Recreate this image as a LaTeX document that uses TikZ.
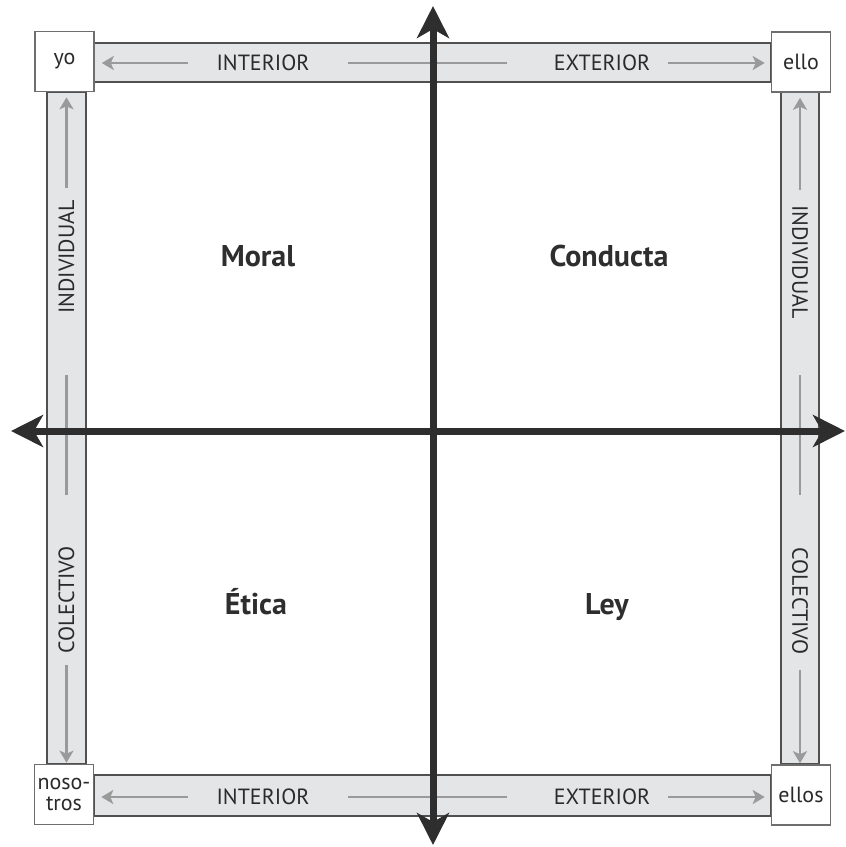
\documentclass[tikz,border=0pt]{standalone}
\usepackage{fontspec}
\setmainfont{PT Sans}
\usetikzlibrary{arrows.meta}
\definecolor{bandfill}{HTML}{E4E5E7}
\definecolor{bandline}{HTML}{505050}
\definecolor{boxline}{HTML}{6E6E6E}
\definecolor{garrow}{HTML}{9A9A9A}
\definecolor{axiscol}{HTML}{2E2E2E}
\definecolor{txt}{HTML}{2A2A2A}
\begin{document}
\begin{tikzpicture}[x=1pt,y=-1pt,
  band/.style={fill=bandfill,draw=bandline,line width=2.5pt},
  cornerbox/.style={draw=boxline,fill=white,line width=1.6pt,minimum width=59pt,minimum height=60pt,inner sep=0pt,text=txt,font=\fontsize{22}{21}\selectfont,align=center},
  bandtxt/.style={text=txt,font=\fontsize{22}{24}\selectfont,inner sep=0pt},
  quadtxt/.style={text=axiscol,font=\fontsize{30}{32}\selectfont\bfseries,inner sep=0pt,anchor=base},
  gar/.style={draw=garrow,line width=2.6pt,-{Stealth[length=12pt,width=14pt,inset=3pt]}},
  gline/.style={draw=garrow,line width=2.6pt},
  axisline/.style={draw=axiscol,line width=7pt,{Stealth[length=32pt,width=32pt,inset=9pt]}-{Stealth[length=32pt,width=32pt,inset=9pt]}}]
\useasboundingbox (0,0) rectangle (846,847);
% bands
\draw[band] (94,43) rectangle (771,82);
\draw[band] (94,775) rectangle (771,816);
\draw[band] (47,92) rectangle (86,764);
\draw[band] (781,92) rectangle (819,764);
% corner boxes
\node[cornerbox] (yo) at (64.5,61.5) {yo};
\node[cornerbox] (ello) at (801,62) {ello};
\node[cornerbox] (nos) at (64,794.5) {noso-\\tros};
\node[cornerbox] (ellos) at (801,795) {ellos};
% band texts
\node[bandtxt] (tint) at (263,63) {INTERIOR};
\node[bandtxt] (text) at (602,63) {EXTERIOR};
\node[bandtxt] (bint) at (263,797) {INTERIOR};
\node[bandtxt] (bext) at (602,797) {EXTERIOR};
\node[bandtxt,rotate=90] (lind) at (66.5,257) {INDIVIDUAL};
\node[bandtxt,rotate=90] (lcol) at (66.5,600) {COLECTIVO};
\node[bandtxt,rotate=-90] (rind) at (800,262) {INDIVIDUAL};
\node[bandtxt,rotate=-90] (rcol) at (800,601) {COLECTIVO};
% band arrows
\coordinate (ta1) at (188,63);
\coordinate (ta2) at (668,63);
\coordinate (tm1) at (348,63);
\coordinate (tm2) at (507,63);
\coordinate (ba1) at (188,797);
\coordinate (ba2) at (668,797);
\coordinate (bm1) at (348,797);
\coordinate (bm2) at (507,797);
\coordinate (la1) at (66.5,188);
\coordinate (la2) at (66.5,665);
\coordinate (lm1) at (66.5,375);
\coordinate (lm2) at (66.5,495);
\coordinate (ra1) at (800,190);
\coordinate (ra2) at (800,670);
\coordinate (rm1) at (800,375);
\coordinate (rm2) at (800,495);
\draw[gar,shorten >=7pt] (ta1) -- (ta1 -| yo.east);
\draw[gar,shorten >=6pt] (ta2) -- (ta2 -| ello.west);
\draw[gline] (tm1) -- (tm2);
\draw[gar,shorten >=7pt] (ba1) -- (ba1 -| nos.east);
\draw[gar,shorten >=6pt] (ba2) -- (ba2 -| ellos.west);
\draw[gline] (bm1) -- (bm2);
\draw[gar,shorten >=5pt] (la1) -- (la1 |- yo.south);
\draw[gar,shorten >=1pt] (la2) -- (la2 |- nos.north);
\draw[gline] (lm1) -- (lm2);
\draw[gar,shorten >=5pt] (ra1) -- (ra1 |- ello.south);
\draw[gar,shorten >=1pt] (ra2) -- (ra2 |- ellos.north);
\draw[gline] (rm1) -- (rm2);
% axes
\coordinate (axT) at (433,6);
\coordinate (axB) at (433,845);
\coordinate (axL) at (11,431);
\coordinate (axR) at (845,431);
\draw[axisline] (axB) -- (axT);
\draw[axisline] (axL) -- (axR);
% quadrant labels
\node[quadtxt] (moral) at (258,266) {Moral};
\node[quadtxt] (cond) at (609,266) {Conducta};
\node[quadtxt] (etica) at (256,614) {Ética};
\node[quadtxt] (ley) at (607,614) {Ley};
\end{tikzpicture}
\end{document}
